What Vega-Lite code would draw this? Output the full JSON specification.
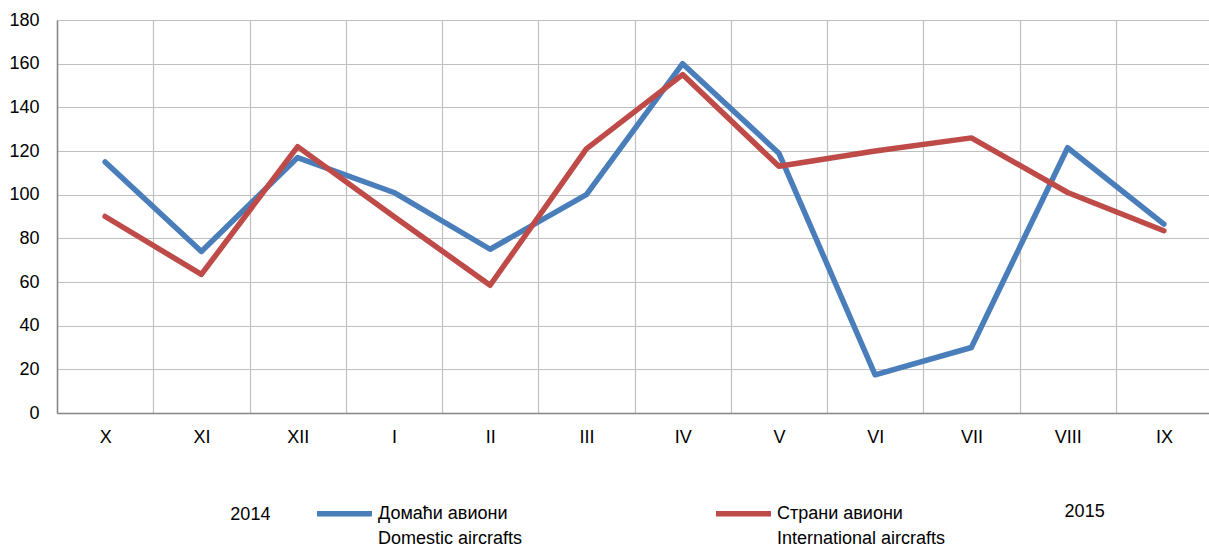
{
  "$schema": "https://vega.github.io/schema/vega-lite/v6.json",
  "width": 1155,
  "height": 393,
  "autosize": {"type": "none"},
  "padding": {"left": 57, "top": 20, "right": 0, "bottom": 136},
  "background": "white",
  "config": {
    "view": {"stroke": null},
    "font": "Liberation Sans",
    "axis": {"labelFont": "Liberation Sans", "labelFontSize": 18, "labelColor": "#000000"},
    "legend": {"labelFont": "Liberation Sans", "labelFontSize": 18, "labelColor": "#000000"},
    "style": {"guide-label": {"lineHeight": 25}}
  },
  "datasets": {
    "main": [
      {"m": "X", "s": "Домаћи авиони|Domestic aircrafts", "v": 115},
      {"m": "XI", "s": "Домаћи авиони|Domestic aircrafts", "v": 74},
      {"m": "XII", "s": "Домаћи авиони|Domestic aircrafts", "v": 117},
      {"m": "I", "s": "Домаћи авиони|Domestic aircrafts", "v": 101},
      {"m": "II", "s": "Домаћи авиони|Domestic aircrafts", "v": 75},
      {"m": "III", "s": "Домаћи авиони|Domestic aircrafts", "v": 100},
      {"m": "IV", "s": "Домаћи авиони|Domestic aircrafts", "v": 160},
      {"m": "V", "s": "Домаћи авиони|Domestic aircrafts", "v": 119},
      {"m": "VI", "s": "Домаћи авиони|Domestic aircrafts", "v": 17.5},
      {"m": "VII", "s": "Домаћи авиони|Domestic aircrafts", "v": 30},
      {"m": "VIII", "s": "Домаћи авиони|Domestic aircrafts", "v": 121.5},
      {"m": "IX", "s": "Домаћи авиони|Domestic aircrafts", "v": 86.5},
      {"m": "X", "s": "Страни авиони|International aircrafts", "v": 90},
      {"m": "XI", "s": "Страни авиони|International aircrafts", "v": 63.5},
      {"m": "XII", "s": "Страни авиони|International aircrafts", "v": 122},
      {"m": "I", "s": "Страни авиони|International aircrafts", "v": 90},
      {"m": "II", "s": "Страни авиони|International aircrafts", "v": 58.5},
      {"m": "III", "s": "Страни авиони|International aircrafts", "v": 121},
      {"m": "IV", "s": "Страни авиони|International aircrafts", "v": 155},
      {"m": "V", "s": "Страни авиони|International aircrafts", "v": 113},
      {"m": "VI", "s": "Страни авиони|International aircrafts", "v": 120},
      {"m": "VII", "s": "Страни авиони|International aircrafts", "v": 126},
      {"m": "VIII", "s": "Страни авиони|International aircrafts", "v": 101},
      {"m": "IX", "s": "Страни авиони|International aircrafts", "v": 83.5}
    ],
    "years": [
      {"m": "XI", "t": "2014"},
      {"m": "VIII", "t": "2015"}
    ]
  },
  "layer": [
    {
      "data": {"name": "main"},
      "mark": {"type": "line", "strokeWidth": 5.5, "strokeCap": "round", "strokeJoin": "round"},
      "encoding": {
        "x": {
          "field": "m", "type": "nominal",
          "sort": ["X", "XI", "XII", "I", "II", "III", "IV", "V", "VI", "VII", "VIII", "IX"],
          "scale": {"type": "band", "paddingInner": 0, "paddingOuter": 0},
          "axis": {
            "title": null, "labelAngle": 0, "ticks": false, "tickBand": "extent",
            "grid": true, "gridColor": "#BFBFBF", "gridWidth": 1.2,
            "domainColor": "#868686", "domainWidth": 1.5, "labelPadding": 15
          }
        },
        "y": {
          "field": "v", "type": "quantitative",
          "scale": {"domain": [0, 180], "nice": false},
          "axis": {
            "title": null, "values": [0, 20, 40, 60, 80, 100, 120, 140, 160, 180],
            "ticks": false, "grid": true, "gridColor": "#BFBFBF", "gridWidth": 1.2,
            "domainColor": "#868686", "domainWidth": 1.5, "labelPadding": 18
          }
        },
        "color": {
          "field": "s", "type": "nominal",
          "scale": {"domain": ["Домаћи авиони|Domestic aircrafts", "Страни авиони|International aircrafts"], "range": ["#4A7EBB", "#BE4B48"]},
          "legend": {
            "title": null, "orient": "none", "legendX": 257, "legendY": 463,
            "direction": "horizontal", "symbolType": "stroke", "symbolSize": 3025,
            "symbolStrokeWidth": 5.5, "labelOffset": 3, "columnPadding": 182,
            "labelLimit": 400, "labelExpr": "split(datum.label, '|')",
            "labelBaseline": "middle"
          }
        }
      }
    },
    {
      "data": {"name": "years"},
      "transform": [{"filter": "datum.t == '2014'"}],
      "mark": {"type": "text", "fontSize": 18, "dx": 49, "baseline": "middle", "align": "center"},
      "encoding": {
        "x": {"field": "m", "type": "nominal", "sort": ["X", "XI", "XII", "I", "II", "III", "IV", "V", "VI", "VII", "VIII", "IX"]},
        "y": {"datum": -46.5},
        "text": {"field": "t"}
      }
    },
    {
      "data": {"name": "years"},
      "transform": [{"filter": "datum.t == '2015'"}],
      "mark": {"type": "text", "fontSize": 18, "dx": 17, "baseline": "middle", "align": "center"},
      "encoding": {
        "x": {"field": "m", "type": "nominal", "sort": ["X", "XI", "XII", "I", "II", "III", "IV", "V", "VI", "VII", "VIII", "IX"]},
        "y": {"datum": -45.5},
        "text": {"field": "t"}
      }
    }
  ]
}
